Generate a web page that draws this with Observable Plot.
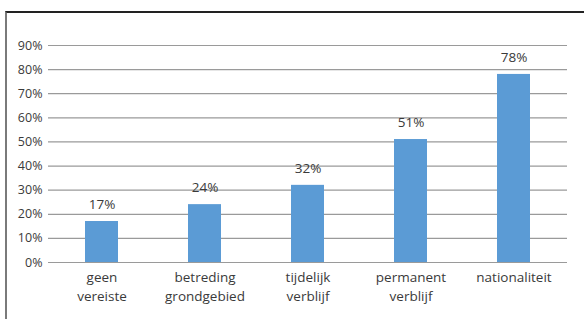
<!DOCTYPE html>
<html>
<head>
<meta charset="utf-8">
<script src="https://cdn.jsdelivr.net/npm/d3@7"></script>
<script src="https://cdn.jsdelivr.net/npm/@observablehq/plot@0.6"></script>
<style>
  html, body { margin: 0; padding: 0; background: #fff; }
  #wrap { position: relative; width: 584px; height: 319px; overflow: hidden; background: #fff; }
  #frame { position: absolute; left: 5px; top: 11px; width: 600px; height: 330px;
           border-top: 2px solid #222; border-left: 2px solid #7a7a7a; box-sizing: border-box; }
  #chart { position: absolute; left: 0; top: 0; }
</style>
</head>
<body>
<div id="wrap"><div id="frame"></div><div id="chart"></div></div>
<script>
const categories = ["geen\nvereiste", "betreding\ngrondgebied", "tijdelijk\nverblijf", "permanent\nverblijf", "nationaliteit"];
const values = [17, 24, 32, 51, 78];
const yTicks = [0, 10, 20, 30, 40, 50, 60, 70, 80, 90];

const data = categories.map((c, i) => ({category: c, value: values[i]}));

const chart = Plot.plot({
  width: 584,
  height: 319,
  marginLeft: 48,
  marginRight: 17,
  marginTop: 45,
  marginBottom: 57,
  style: {fontFamily: "'Open Sans', 'Noto Sans', sans-serif", background: "transparent", color: "#3a3a3a"},
  x: {domain: categories, paddingInner: 0.68, paddingOuter: 0.34},
  y: {domain: [0, 90]},
  marks: [
    Plot.ruleY(yTicks, {stroke: "#9a9a9a", strokeWidth: 1.2}),
    Plot.barY(data, {x: "category", y: "value", fill: "#5b9bd5"}),
    Plot.text(data, {x: "category", y: "value", text: d => d.value + "%", dy: -17, fontSize: 13.5, fill: "#3a3a3a", lineAnchor: "middle"}),
    Plot.axisY({ticks: yTicks, tickSize: 0, tickPadding: 6, tickFormat: d => d + "%", fontSize: 12.5, fill: "#3a3a3a", label: null}),
    Plot.axisX({tickSize: 0, tickPadding: 7, fontSize: 13.5, fill: "#3a3a3a", lineHeight: 1.35, label: null, lineAnchor: "top"})
  ]
});
document.getElementById("chart").appendChild(chart);
</script>
</body>
</html>
